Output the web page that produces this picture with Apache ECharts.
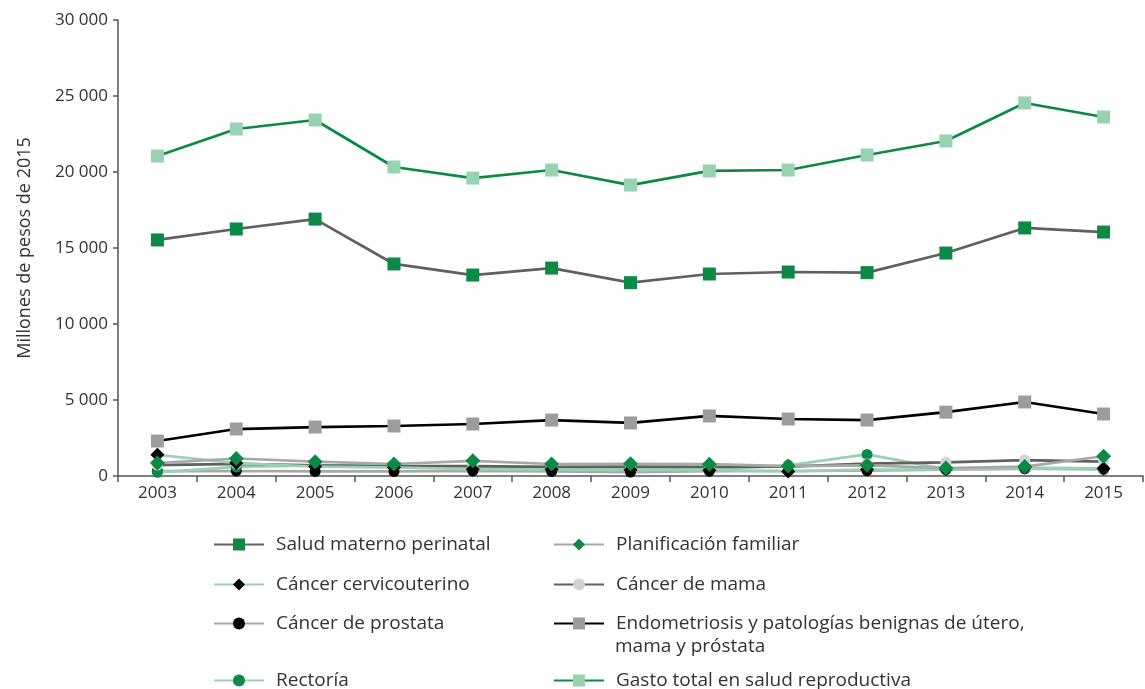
<!DOCTYPE html>
<html>
<head>
<meta charset="utf-8">
<script src="https://cdn.jsdelivr.net/npm/echarts@6/dist/echarts.min.js"></script>
<style>
  html, body { margin: 0; padding: 0; background: #fff; }
  #chart { width: 1145px; height: 689px; }
</style>
</head>
<body>
<div id="chart"></div>
<script>
// Gasto en salud reproductiva por componente, millones de pesos de 2015
const years = ['2003','2004','2005','2006','2007','2008','2009','2010','2011','2012','2013','2014','2015'];

const saludMaterno   = [15530, 16250, 16900, 13950, 13220, 13680, 12720, 13290, 13420, 13380, 14670, 16320, 16050];
const planificacion  = [850, 1150, 940, 790, 1000, 790, 800, 780, 650, 700, 520, 620, 1300];
const cervicouterino = [1400, 850, 620, 560, 450, 420, 400, 380, 300, 420, 440, 560, 500];
const cancerMama     = [720, 800, 700, 650, 650, 600, 620, 600, 620, 820, 900, 1050, 940];
const cancerProstata = [320, 330, 300, 300, 330, 300, 260, 320, 330, 360, 420, 470, 470];
const endometriosis  = [2300, 3090, 3220, 3290, 3420, 3680, 3490, 3950, 3750, 3680, 4200, 4870, 4080];
const rectoria       = [240, 600, 700, 640, 500, 500, 500, 420, 700, 1420, 450, 500, 420];
const gastoTotal     = [21050, 22830, 23420, 20330, 19600, 20130, 19140, 20070, 20130, 21120, 22040, 24540, 23620];

const yTicks = { min: 0, max: 30000, interval: 5000 };

const GREEN = '#0b8a45';
const LIGHT_GREEN = '#98d2b1';
const DARK_GRAY = '#606060';
const LIGHT_GRAY = '#a8a8a8';
const MARKER_GRAY = '#9d9d9d';
const PALE_GRAY = '#d2d2d2';
const TEXT = '#333333';
const FONT = '"Open Sans", "DejaVu Sans", sans-serif';

function line(name, data, lineColor, symbol, symbolSize, markerColor, z) {
  return {
    name, type: 'line', data, symbol, symbolSize,
    showAllSymbol: true,
    z: z,
    lineStyle: { color: lineColor, width: 2.7 },
    itemStyle: { color: markerColor, borderWidth: 0 },
    emphasis: { disabled: true },
    animation: false
  };
}

const series = [
  line('Rectoría', rectoria, LIGHT_GREEN, 'circle', 11, GREEN, 3),
  line('Cáncer de prostata', cancerProstata, LIGHT_GRAY, 'circle', 11, '#000000', 2),
  line('Cáncer de mama', cancerMama, DARK_GRAY, 'circle', 11, PALE_GRAY, 4),
  line('Cáncer cervicouterino', cervicouterino, LIGHT_GREEN, 'diamond', 14, '#000000', 5),
  line('Planificación familiar', planificacion, LIGHT_GRAY, 'diamond', 15, GREEN, 6),
  line('Endometriosis y patologías benignas de útero, mama y próstata', endometriosis, '#000000', 'rect', 13, MARKER_GRAY, 7),
  line('Salud materno perinatal', saludMaterno, DARK_GRAY, 'rect', 13, GREEN, 8),
  line('Gasto total en salud reproductiva', gastoTotal, GREEN, 'rect', 13, LIGHT_GREEN, 9)
];

// One legend per entry so the two columns sit on their own rows
const legendRows = [
  { name: 'Salud materno perinatal', left: 213, top: 535 },
  { name: 'Cáncer cervicouterino', left: 213, top: 575 },
  { name: 'Cáncer de prostata', left: 213, top: 614 },
  { name: 'Rectoría', left: 213, top: 671 },
  { name: 'Planificación familiar', left: 553, top: 535 },
  { name: 'Cáncer de mama', left: 553, top: 575 },
  { name: 'Endometriosis y patologías benignas de útero, mama y próstata', left: 553, top: 614,
    label: 'Endometriosis y patologías benignas de útero,' },
  { name: 'Gasto total en salud reproductiva', left: 553, top: 671 }
];

const legends = legendRows.map(r => ({
  data: [r.name],
  left: r.left, top: r.top,
  orient: 'horizontal',
  itemWidth: 50, itemHeight: 15,
  padding: 0,
  selectedMode: false,
  formatter: r.label ? () => r.label : undefined,
  textStyle: { fontFamily: FONT, fontSize: 19, color: TEXT, padding: [0, 0, 0, 7] }
}));

const chart = echarts.init(document.getElementById('chart'), null, { renderer: 'canvas' });
chart.setOption({
  backgroundColor: '#ffffff',
  animation: false,
  grid: { left: 118, right: 2, top: 20, bottom: 213, containLabel: false },
  xAxis: {
    type: 'category',
    data: years,
    boundaryGap: true,
    axisLine: { lineStyle: { color: '#555555', width: 1.5 } },
    axisTick: { show: true, length: 6, lineStyle: { color: '#555555', width: 1.5 } },
    axisLabel: { fontFamily: FONT, fontSize: 17, color: TEXT, margin: 9 }
  },
  yAxis: {
    type: 'value',
    min: yTicks.min, max: yTicks.max, interval: yTicks.interval,
    name: 'Millones de pesos de 2015',
    nameLocation: 'middle',
    nameGap: 84,
    nameTextStyle: { fontFamily: FONT, fontSize: 18, color: TEXT },
    axisLine: { show: true, lineStyle: { color: '#555555', width: 1.5 } },
    axisTick: { show: true, length: 5, lineStyle: { color: '#555555', width: 1.5 } },
    splitLine: { show: false },
    axisLabel: {
      fontFamily: FONT, fontSize: 17, color: TEXT, margin: 10,
      formatter: v => String(v).replace(/\B(?=(\d{3})+(?!\d))/g, ' ')
    }
  },
  legend: legends,
  graphic: [{
    type: 'text', left: 615, top: 637,
    style: { text: 'mama y próstata', fontFamily: FONT, fontSize: 19, fill: TEXT }
  }],
  series
});
</script>
</body>
</html>
